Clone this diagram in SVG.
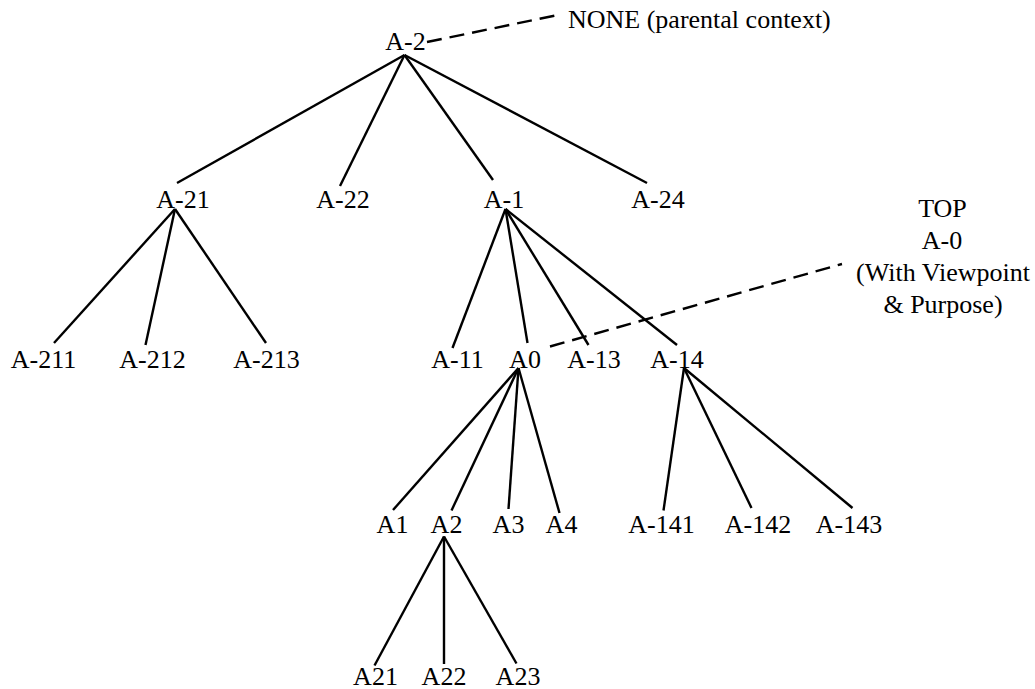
<svg xmlns="http://www.w3.org/2000/svg" width="1035" height="689" viewBox="0 0 1035 689">
<style>
text{font-family:"Liberation Serif","Times New Roman",Times,"DejaVu Serif",serif;font-size:26px;fill:#000;text-anchor:middle}
.l{stroke:#000;stroke-width:2.4;fill:none}
.d{stroke:#000;stroke-width:2.4;fill:none;stroke-dasharray:15 8}
</style>
<rect width="1035" height="689" fill="#fff"/>
<g id="connectors">
<line class="l" x1="404.5" y1="55" x2="177" y2="183"/>
<line class="l" x1="404.5" y1="55" x2="340" y2="186"/>
<line class="l" x1="404.5" y1="55" x2="493" y2="180"/>
<line class="l" x1="404.5" y1="55" x2="647" y2="183"/>
<line class="l" x1="175" y1="209" x2="54" y2="343"/>
<line class="l" x1="175" y1="209" x2="145.5" y2="345"/>
<line class="l" x1="175" y1="209" x2="266" y2="343"/>
<line class="l" x1="505.5" y1="209" x2="452.5" y2="348"/>
<line class="l" x1="505.5" y1="209" x2="527.5" y2="343"/>
<line class="l" x1="505.5" y1="209" x2="588.5" y2="345"/>
<line class="l" x1="505.5" y1="209" x2="677" y2="345"/>
<line class="l" x1="518.5" y1="368" x2="393" y2="510"/>
<line class="l" x1="518.5" y1="368" x2="451.5" y2="510.5"/>
<line class="l" x1="518.5" y1="368" x2="508.5" y2="509"/>
<line class="l" x1="518.5" y1="368" x2="559.5" y2="513"/>
<line class="l" x1="684" y1="368" x2="663.5" y2="510.5"/>
<line class="l" x1="684" y1="368" x2="751.5" y2="508"/>
<line class="l" x1="684" y1="368" x2="852.5" y2="508"/>
<line class="l" x1="444" y1="536.5" x2="374.5" y2="665.5"/>
<line class="l" x1="444" y1="536.5" x2="444" y2="664"/>
<line class="l" x1="444" y1="536.5" x2="516.5" y2="663.5"/>
<line class="d" x1="427" y1="42" x2="558" y2="15"/>
<line class="d" x1="550" y1="346.5" x2="842" y2="264"/>
</g>
<g id="n-A-2"><text x="405.5" y="50">A-2</text></g>
<g id="n-none"><text x="568" y="28" style="text-anchor:start">NONE (parental context)</text></g>
<g id="n-A-21"><text x="183" y="208">A-21</text></g>
<g id="n-A-22"><text x="343" y="208">A-22</text></g>
<g id="n-A-1"><text x="504" y="208">A-1</text></g>
<g id="n-A-24"><text x="658" y="208">A-24</text></g>
<g id="n-top"><text x="942.5" y="217">TOP</text><text x="942" y="249">A-0</text><text x="943" y="281">(With Viewpoint</text><text x="943" y="313">&amp; Purpose)</text></g>
<g id="n-A-211"><text x="43.5" y="368">A-211</text></g>
<g id="n-A-212"><text x="152.5" y="368">A-212</text></g>
<g id="n-A-213"><text x="266.5" y="368">A-213</text></g>
<g id="n-A-11"><text x="457.5" y="368">A-11</text></g>
<g id="n-A0"><text x="525" y="368">A0</text></g>
<g id="n-A-13"><text x="594" y="368">A-13</text></g>
<g id="n-A-14"><text x="677" y="368">A-14</text></g>
<g id="n-A1"><text x="392.5" y="533">A1</text></g>
<g id="n-A2"><text x="446.5" y="533">A2</text></g>
<g id="n-A3"><text x="508.5" y="533">A3</text></g>
<g id="n-A4"><text x="561.5" y="533">A4</text></g>
<g id="n-A-141"><text x="661.5" y="533">A-141</text></g>
<g id="n-A-142"><text x="758" y="533">A-142</text></g>
<g id="n-A-143"><text x="849" y="533">A-143</text></g>
<g id="n-A21"><text x="375.5" y="685">A21</text></g>
<g id="n-A22"><text x="444" y="685">A22</text></g>
<g id="n-A23"><text x="518" y="685">A23</text></g>
</svg>
